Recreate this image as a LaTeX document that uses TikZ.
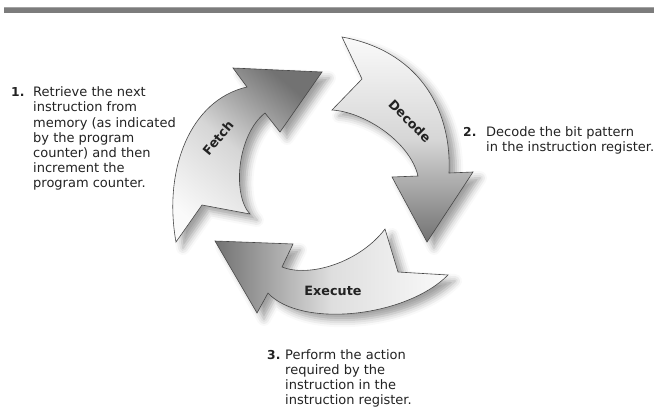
\documentclass[tikz,border=0pt]{standalone}
\usepackage{fontspec}
\setmainfont{DejaVu Sans}
\usetikzlibrary{shadows.blur}
\definecolor{barcol}{HTML}{7C7C7C}
\definecolor{edgecol}{HTML}{474747}
\definecolor{txtcol}{HTML}{222222}
\definecolor{headcol}{HTML}{727272}
\definecolor{midcol}{HTML}{D6D6D6}
\definecolor{tailcol}{HTML}{FAFAFA}
\begin{document}
\begin{tikzpicture}[x=1pt,y=-1pt,
  arrowshape/.style={draw=edgecol, line width=0.6pt, line join=miter,
    blur shadow={shadow xshift=7pt, shadow yshift=-6pt, shadow blur radius=7pt, shadow opacity=38}},
  lbl/.style={font=\fontsize{12.8}{14}\selectfont\bfseries, text=txtcol, inner sep=0pt},
  num/.style={font=\fontsize{12.3}{15.2}\selectfont\bfseries, text=txtcol, inner sep=0pt, anchor=base west},
  body/.style={font=\fontsize{13}{15.2}\selectfont, text=txtcol, inner sep=0pt, anchor=base west}]
\useasboundingbox (0,0) rectangle (654,413);
\fill[barcol] (4,7) rectangle (654,13);
\fill[barcol!70!white] (4,7) rectangle (654,8);

% Fetch arrow
\path[arrowshape, top color=headcol, bottom color=tailcol, middle color=midcol, shading angle=-40]
  (176,242) -- (202,205) -- (250,214)
  .. controls (232,195) and (237,135) .. (265,113)
  -- (280,132) -- (322,72) -- (233,68) -- (247,87)
  .. controls (190,100) and (163,170) .. (176,242) -- cycle;

% Decode arrow
\path[arrowshape, top color=tailcol, bottom color=headcol, middle color=midcol]
  (342,37) -- (362,79) -- (332,110)
  .. controls (365,112) and (410,142) .. (418,176)
  -- (392,177) -- (427,242) -- (473,172) -- (449,173)
  .. controls (452,105) and (415,50) .. (342,37) -- cycle;

% Execute arrow
\path[arrowshape, left color=headcol, right color=tailcol, middle color=midcol!80!white]
  (448,275) -- (398,272) -- (385,229)
  .. controls (360,262) and (310,278) .. (282,267)
  -- (293,244) -- (215,241) -- (257,313) -- (268,293)
  .. controls (300,328) and (405,318) .. (448,275) -- cycle;

\node[lbl, rotate=50] (fetch) at (218,138) {Fetch};
\node[lbl, rotate=-45] (decode) at (410,121) {Decode};
\node[lbl] (execute) at (333,291) {Execute};

\node[num] (n1) at (11,96.7) {1.};
\node[body] (t1) at (33,96.7) {\begin{tabular}[t]{@{}l@{}}Retrieve the next\\instruction from\\memory (as indicated\\by the program\\counter) and then\\increment the\\program counter.\end{tabular}};

\node[num] (n2) at (463,136.7) {2.};
\node[body] (t2) at (486,136.7) {\begin{tabular}[t]{@{}l@{}}Decode the bit pattern\\in the instruction register.\end{tabular}};

\node[num] (n3) at (267,359.3) {3.};
\node[body] (t3) at (285,359.3) {\begin{tabular}[t]{@{}l@{}}Perform the action\\required by the\\instruction in the\\instruction register.\end{tabular}};
\end{tikzpicture}
\end{document}
